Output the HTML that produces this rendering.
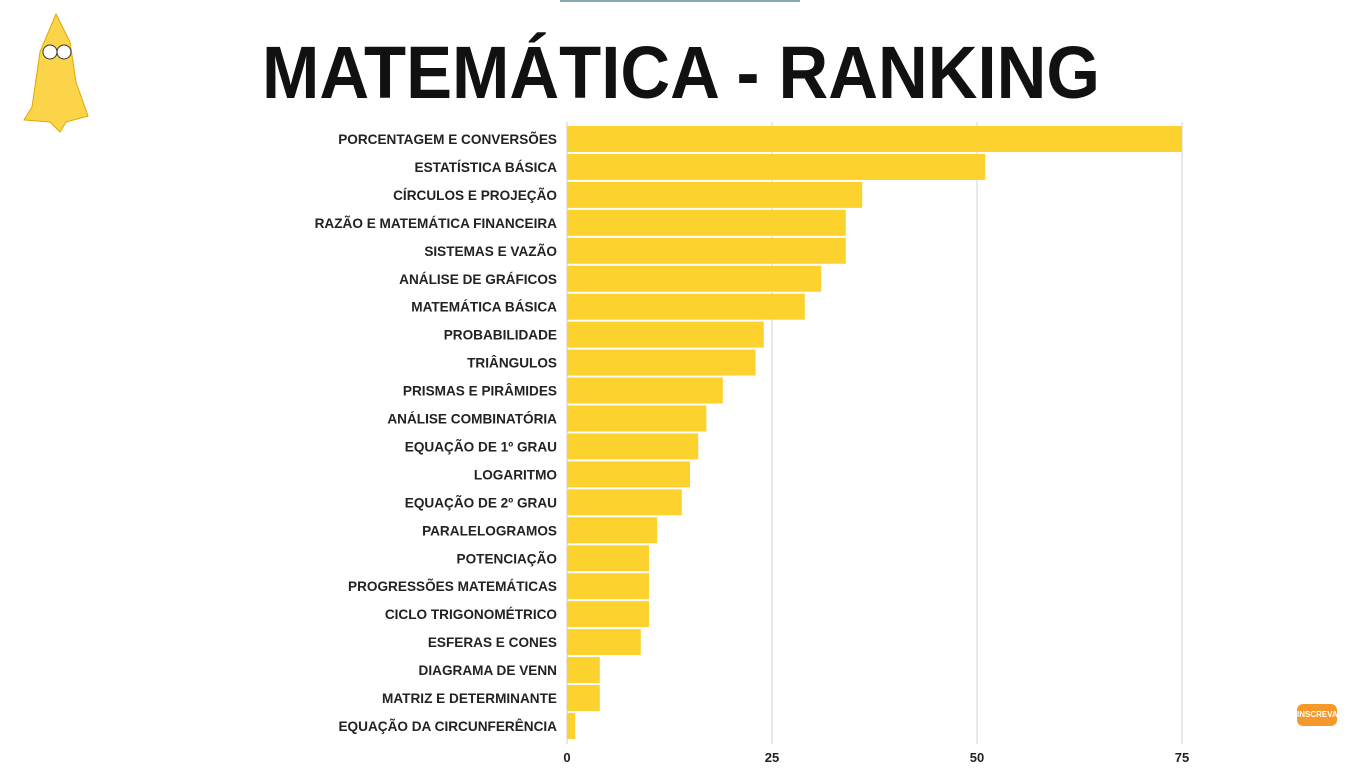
<!DOCTYPE html>
<html><head><meta charset="utf-8"><style>
body{margin:0;width:1360px;height:768px;background:#fff;overflow:hidden;position:relative;font-family:"Liberation Sans",sans-serif}
</style></head><body>
<div style="position:absolute;left:560px;top:0;width:240px;height:2px;background:#8aa"></div>
<svg style="position:absolute;left:0;top:0" width="1360" height="110">
<text x="262" y="98" textLength="838" lengthAdjust="spacingAndGlyphs" font-family="Liberation Sans" font-weight="bold" font-size="74" fill="#111">MATEMÁTICA - RANKING</text>
</svg>
<svg style="position:absolute;left:20px;top:12px" width="72" height="122">
<polygon points="36,2 20,40 12,95 4,108 30,110 40,120 46,110 68,104 56,70 50,30" fill="#fbd44a" stroke="#e0a800"/>
<circle cx="30" cy="40" r="7" fill="#fff" stroke="#333"/><circle cx="44" cy="40" r="7" fill="#fff" stroke="#333"/>
</svg>
<div style="position:absolute;left:1297px;top:704px;width:40px;height:22px;background:#f59a2a;border-radius:6px;color:#fff;font-size:8px;font-weight:bold;text-align:center;line-height:22px;overflow:hidden">INSCREVA</div>
<svg id="chart" width="1360" height="768" style="position:absolute;left:0;top:0"></svg>
<script>
const categories=["PORCENTAGEM E CONVERSÕES","ESTATÍSTICA BÁSICA","CÍRCULOS E PROJEÇÃO","RAZÃO E MATEMÁTICA FINANCEIRA","SISTEMAS E VAZÃO","ANÁLISE DE GRÁFICOS","MATEMÁTICA BÁSICA","PROBABILIDADE","TRIÂNGULOS","PRISMAS E PIRÂMIDES","ANÁLISE COMBINATÓRIA","EQUAÇÃO DE 1º GRAU","LOGARITMO","EQUAÇÃO DE 2º GRAU","PARALELOGRAMOS","POTENCIAÇÃO","PROGRESSÕES MATEMÁTICAS","CICLO TRIGONOMÉTRICO","ESFERAS E CONES","DIAGRAMA DE VENN","MATRIZ E DETERMINANTE","EQUAÇÃO DA CIRCUNFERÊNCIA"];
const values=[75,51,36,34,34,31,29,24,23,19,17,16,15,14,11,10,10,10,9,4,4,1];
const ticks=[0,25,50,75];
const svg=document.getElementById('chart');
const NS='http://www.w3.org/2000/svg';
const x=v=>567+v*(1182-567)/75;
const y=i=>126+i*27.95;
function mk(t,a){const e=document.createElementNS(NS,t);for(const k in a)e.setAttribute(k,a[k]);svg.appendChild(e);return e;}
ticks.forEach(t=>{
 if(t>0){const g=mk('line',{x1:x(t),x2:x(t),y1:122,y2:744,stroke:'#ddd','stroke-width':1.3});
 
 }
 const l=mk('text',{x:x(t),y:762,'text-anchor':'middle','font-size':13,'font-weight':'bold',fill:'#222','font-family':'Liberation Sans'});
 l.textContent=t;
 
 
});
const ax=mk('line',{x1:567,x2:567,y1:122,y2:744,stroke:'#ccc'});


categories.forEach((c,i)=>{
 const r=mk('rect',{x:x(0),y:y(i),width:x(values[i])-x(0),height:26,fill:'#fdd22f'});
 
 
 const t=mk('text',{x:557,y:y(i)+18,'text-anchor':'end','font-size':13.6,'font-weight':'bold',fill:'#222','font-family':'Liberation Sans'});
 t.textContent=c;
 
 
});
</script>
</body></html>
